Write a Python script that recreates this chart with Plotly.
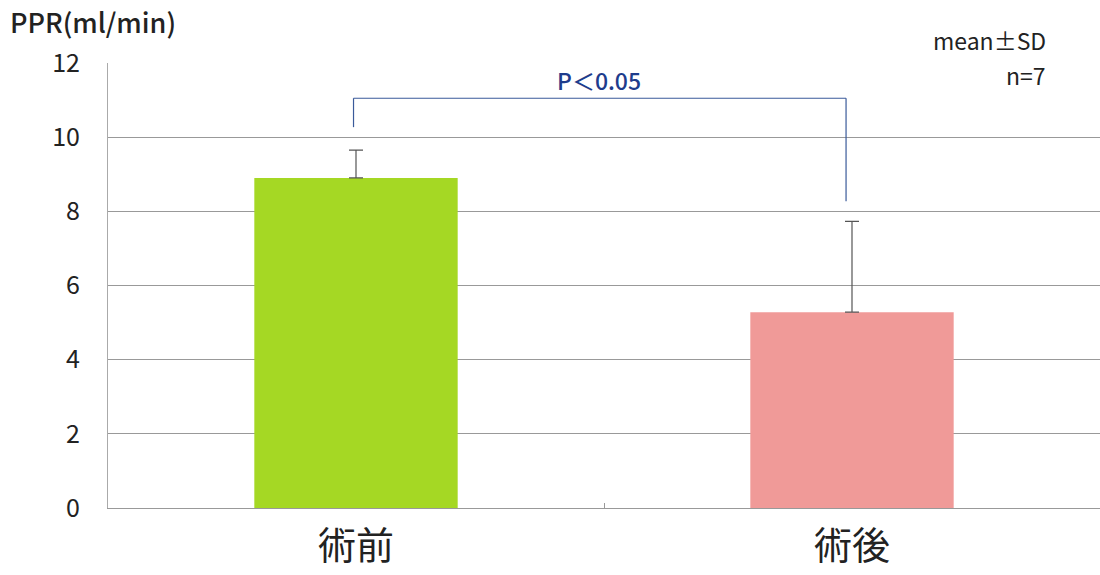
import plotly.graph_objects as go

categories = ["術前", "術後"]
means = [8.9, 5.28]
sds = [0.75, 2.45]
bar_colors = ["#a5d824", "#f09a98"]
y_ticks = [0, 2, 4, 6, 8, 10, 12]

# significance bracket (data units)
bracket_top = 11.05
bracket_left_bottom = 10.27
bracket_right_bottom = 8.27
p_label = "P＜0.05"

FONT = "Noto Sans CJK JP, Liberation Sans, sans-serif"

W, H = 1100, 575
ml, mr, mt, mb = 108, 0, 63, 67
pw, ph = W - ml - mr, H - mt - mb


def px_to_paper(px, py):
    return (px - ml) / pw, (H - mb - py) / ph


fig = go.Figure()
fig.add_trace(go.Bar(
    x=categories, y=means,
    marker=dict(color=bar_colors, line=dict(width=0)),
    width=0.41,
    error_y=dict(type="data", array=sds, arrayminus=[0, 0], symmetric=False,
                 color="#555555", thickness=1.2, width=7),
    showlegend=False,
    hoverinfo="skip",
))

blue = "#3a5a9a"
fig.add_shape(type="line", xref="x", yref="y", x0=-0.005, x1=-0.005,
              y0=bracket_left_bottom, y1=bracket_top, line=dict(color=blue, width=1.2))
fig.add_shape(type="line", xref="x", yref="y", x0=-0.005, x1=0.988,
              y0=bracket_top, y1=bracket_top, line=dict(color=blue, width=1.2))
fig.add_shape(type="line", xref="x", yref="y", x0=0.988, x1=0.988,
              y0=bracket_right_bottom, y1=bracket_top, line=dict(color=blue, width=1.2))

fig.add_annotation(x=0.49, y=11.55, xref="x", yref="y", text=p_label,
                   showarrow=False,
                   font=dict(family=FONT, size=23, color="#1e3c8c", weight=500),
                   yanchor="middle")

x, y = px_to_paper(8, 22)
fig.add_annotation(x=x, y=y, xref="paper", yref="paper", text="PPR(ml/min)", showarrow=False,
                   xanchor="left", yanchor="middle",
                   font=dict(family=FONT, size=27, color="#222222", weight=500))
x, y = px_to_paper(1048, 40)
fig.add_annotation(x=x, y=y, xref="paper", yref="paper", text="mean±SD", showarrow=False,
                   xanchor="right", yanchor="middle",
                   font=dict(family=FONT, size=23, color="#222222"))
x, y = px_to_paper(1048, 75)
fig.add_annotation(x=x, y=y, xref="paper", yref="paper", text="n=7", showarrow=False,
                   xanchor="right", yanchor="middle",
                   font=dict(family=FONT, size=23, color="#222222"))

fig.update_layout(
    width=W, height=H,
    margin=dict(l=ml, r=mr, t=mt, b=mb),
    plot_bgcolor="white", paper_bgcolor="white",
    font=dict(family=FONT, color="#222222"),
)
fig.update_xaxes(
    type="category", range=[-0.5, 1.5],
    showline=True, linecolor="#999999", linewidth=1,
    ticks="inside", tickson="boundaries", ticklen=5, tickcolor="#999999",
    tickfont=dict(family=FONT, size=38, color="#222222"),
    ticklabelstandoff=4,
    showgrid=False,
)
fig.update_yaxes(
    range=[0, 12], tickvals=y_ticks,
    showline=True, linecolor="#aaaaaa", linewidth=1,
    ticks="inside", ticklen=7, tickcolor="#999999",
    showgrid=True, gridcolor="#999999", gridwidth=1,
    zeroline=False,
    tickfont=dict(family=FONT, size=25, color="#222222"),
    ticklabelstandoff=22,
)

fig.write_html("out.html", config={"displayModeBar": False},
               post_script="document.body.style.margin='0px';")
